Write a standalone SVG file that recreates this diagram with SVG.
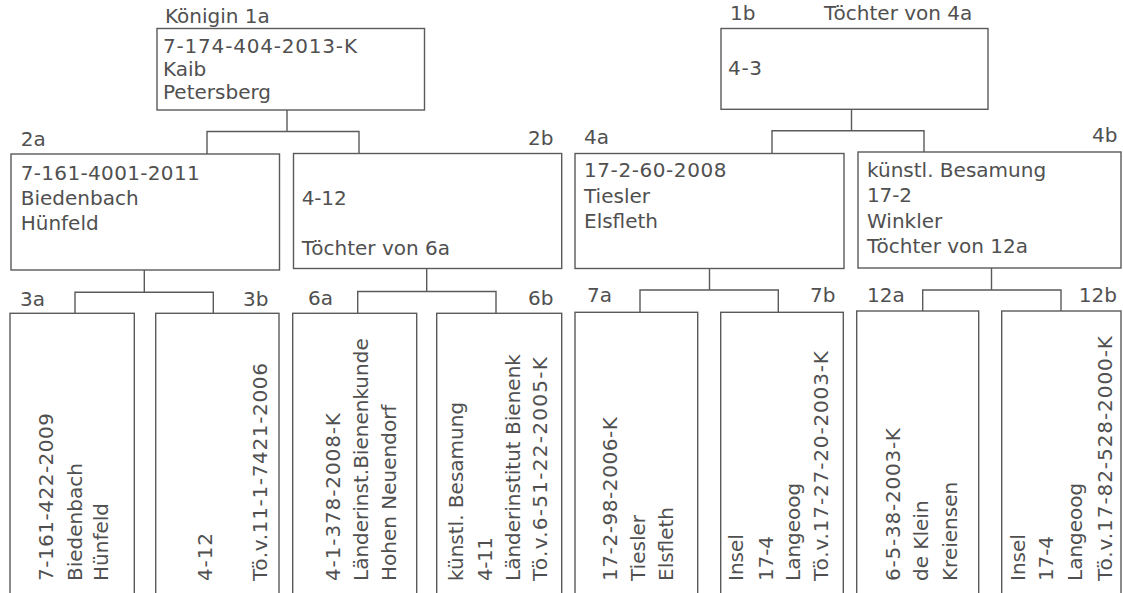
<svg xmlns="http://www.w3.org/2000/svg" width="1123" height="593" viewBox="0 0 1123 593">
<style>
.box{fill:none;stroke:#5a5a5a;stroke-width:1.4}
.con{fill:none;stroke:#5a5a5a;stroke-width:1.4}
text{font-family:"DejaVu Sans","Verdana",sans-serif;font-size:20px;fill:#505050}
.e{text-anchor:end}
</style>
<rect width="1123" height="593" fill="#ffffff"/>
<g id="connectors">
<path class="con" d="M287,110 V131.5 M207,154 V131.5 H359 V153.5"/>
<path class="con" d="M851.5,109.3 V130.7 M772,153.5 V130.7 H924 V152"/>
<path class="con" d="M144.3,270 V292.3 M75,313.3 V292.3 H213.3 V313.3"/>
<path class="con" d="M426.7,268.5 V291.5 M357.7,313.3 V291.5 H496 V313.3"/>
<path class="con" d="M709.5,268.5 V290 M640,312.3 V290 H778.3 V312.3"/>
<path class="con" d="M991.5,268 V290 M922.7,311 V290 H1061 V311"/>
</g>
<g id="n1a">
<text x="165" y="23">Königin 1a</text>
<rect class="box" x="157" y="28.5" width="267.5" height="81.5"/>
<text x="163" y="52.5" textLength="194">7-174-404-2013-K</text>
<text x="163" y="75.5">Kaib</text>
<text x="163" y="98.7">Petersberg</text>
</g>
<g id="n1b">
<text x="730" y="20">1b</text>
<text x="824" y="20">Töchter von 4a</text>
<rect class="box" x="721" y="28.5" width="267" height="80.8"/>
<text x="728" y="75" textLength="34">4-3</text>
</g>
<g id="n2a">
<text x="20.7" y="145.5">2a</text>
<rect class="box" x="11" y="154" width="268.5" height="116"/>
<text x="20.7" y="180" textLength="179">7-161-4001-2011</text>
<text x="20.7" y="205">Biedenbach</text>
<text x="20.7" y="230">Hünfeld</text>
</g>
<g id="n2b">
<text class="e" x="553.5" y="144.5">2b</text>
<rect class="box" x="293.5" y="153.5" width="268.2" height="115"/>
<text x="301.7" y="205" textLength="45">4-12</text>
<text x="301.7" y="255">Töchter von 6a</text>
</g>
<g id="n4a">
<text x="584" y="144">4a</text>
<rect class="box" x="575" y="153.5" width="269" height="115"/>
<text x="584" y="176.7" textLength="142.5">17-2-60-2008</text>
<text x="584" y="202.5">Tiesler</text>
<text x="584" y="228.3">Elsfleth</text>
</g>
<g id="n4b">
<text class="e" x="1117.5" y="142.3">4b</text>
<rect class="box" x="858" y="152" width="263" height="116"/>
<text x="867" y="176.7">künstl. Besamung</text>
<text x="867" y="201.7" textLength="45">17-2</text>
<text x="867" y="227.7">Winkler</text>
<text x="867" y="252.7">Töchter von 12a</text>
</g>
<g id="n3a">
<text x="20" y="305.5">3a</text>
<rect class="box" x="10" y="313.3" width="124.3" height="290"/>
<text transform="translate(53.3,581) rotate(-90)" textLength="168">7-161-422-2009</text>
<text transform="translate(81.5,581) rotate(-90)">Biedenbach</text>
<text transform="translate(108,581) rotate(-90)">Hünfeld</text>
</g>
<g id="n3b">
<text class="e" x="268.5" y="305.5">3b</text>
<rect class="box" x="155.7" y="313.3" width="123.3" height="290"/>
<text transform="translate(211.7,581) rotate(-90)" textLength="48">4-12</text>
<text transform="translate(266.7,581) rotate(-90)" textLength="218">Tö.v.11-1-7421-2006</text>
</g>
<g id="n6a">
<text x="308" y="305">6a</text>
<rect class="box" x="292.7" y="313.3" width="124" height="290"/>
<text transform="translate(340,581) rotate(-90)" textLength="168">4-1-378-2008-K</text>
<text transform="translate(368.3,581) rotate(-90)">Länderinst.Bienenkunde</text>
<text transform="translate(395.5,581) rotate(-90)">Hohen Neuendorf</text>
</g>
<g id="n6b">
<text class="e" x="553.5" y="305">6b</text>
<rect class="box" x="436.7" y="313.3" width="125" height="290"/>
<text transform="translate(463.3,581) rotate(-90)">künstl. Besamung</text>
<text transform="translate(491.7,581) rotate(-90)" textLength="44">4-11</text>
<text transform="translate(519.5,581) rotate(-90)">Länderinstitut Bienenk</text>
<text transform="translate(546.7,581) rotate(-90)" textLength="224">Tö.v.6-51-22-2005-K</text>
</g>
<g id="n7a">
<text x="587" y="302">7a</text>
<rect class="box" x="575" y="312.3" width="122.7" height="290"/>
<text transform="translate(616.7,581) rotate(-90)" textLength="164">17-2-98-2006-K</text>
<text transform="translate(645,581) rotate(-90)">Tiesler</text>
<text transform="translate(673,581) rotate(-90)">Elsfleth</text>
</g>
<g id="n7b">
<text class="e" x="835.5" y="302">7b</text>
<rect class="box" x="720.7" y="312.3" width="122.6" height="290"/>
<text transform="translate(743.3,581) rotate(-90)">Insel</text>
<text transform="translate(773.3,581) rotate(-90)" textLength="45">17-4</text>
<text transform="translate(800,581) rotate(-90)">Langeoog</text>
<text transform="translate(828,581) rotate(-90)" textLength="230">Tö.v.17-27-20-2003-K</text>
</g>
<g id="n12a">
<text x="867" y="302">12a</text>
<rect class="box" x="856.7" y="311" width="122" height="290"/>
<text transform="translate(900,581) rotate(-90)" textLength="153">6-5-38-2003-K</text>
<text transform="translate(928.3,581) rotate(-90)">de Klein</text>
<text transform="translate(956.7,581) rotate(-90)">Kreiensen</text>
</g>
<g id="n12b">
<text class="e" x="1117" y="301.7">12b</text>
<rect class="box" x="1001.7" y="311" width="119.3" height="290"/>
<text transform="translate(1025,581) rotate(-90)">Insel</text>
<text transform="translate(1053,581) rotate(-90)" textLength="45">17-4</text>
<text transform="translate(1081.5,581) rotate(-90)">Langeoog</text>
<text transform="translate(1111.7,581) rotate(-90)" textLength="245">Tö.v.17-82-528-2000-K</text>
</g>
</svg>
